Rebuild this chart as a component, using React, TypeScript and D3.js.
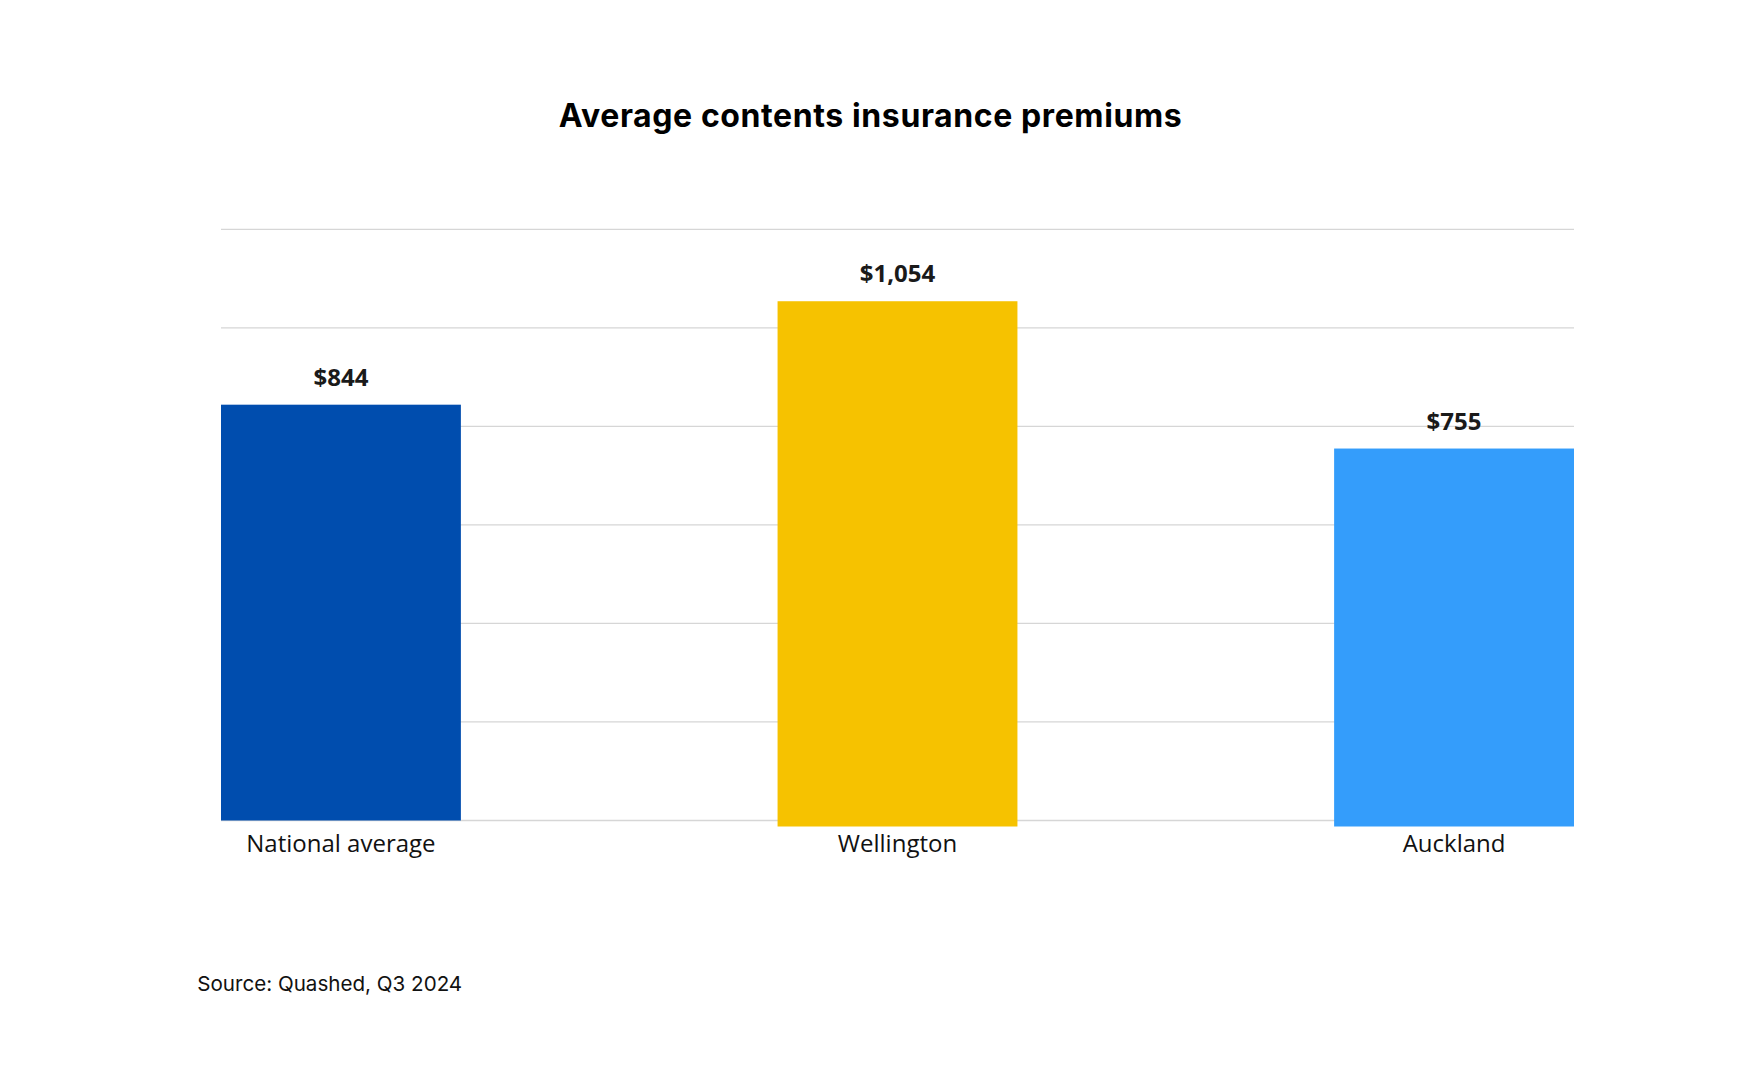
import React from "react";
import * as d3 from "d3";

const categories = ["National average", "Wellington", "Auckland"];
const values = [844, 1054, 755];
const valueLabels = ["$844", "$1,054", "$755"];
const barColors = ["#004DAE", "#F6C200", "#349DFB"];
const gridTicks = [0, 200, 400, 600, 800, 1000, 1200];
const titleText = "Average contents insurance premiums";
const sourceText = "Source: Quashed, Q3 2024";

const W = 1742;
const H = 1080;

export default function App() {
  const x = d3
    .scaleBand<string>()
    .domain(categories)
    .range([221, 1574])
    .paddingInner(0.569)
    .paddingOuter(0);
  const y = d3.scaleLinear().domain([0, 1200]).range([820.5, 229.3]);
  const overhang = [0, 6, 6];

  return (
    <svg
      width={W}
      height={H}
      viewBox={`0 0 ${W} ${H}`}
      style={{ position: "absolute", left: 0, top: 0, background: "#fff" }}
    >
      <rect x={0} y={0} width={W} height={H} fill="#fff" />
      <text
        x={870.5}
        y={127.3}
        textAnchor="middle"
        fontFamily="Inter, 'DejaVu Sans', sans-serif"
        fontWeight={700}
        fontSize={32}
        letterSpacing={0.6}
        fill="#000"
      >
        {titleText}
      </text>
      {gridTicks.map((t) => (
        <line
          key={t}
          x1={221}
          x2={1574}
          y1={y(t)}
          y2={y(t)}
          stroke="#d6d6d6"
          strokeWidth={1.3}
        />
      ))}
      {categories.map((c, i) => {
        const bx = x(c) as number;
        const bw = x.bandwidth();
        const top = y(values[i]);
        return (
          <g key={c}>
            <rect
              x={bx}
              y={top}
              width={bw}
              height={y(0) - top + overhang[i]}
              fill={barColors[i]}
            />
            <text
              x={bx + bw / 2}
              y={top - 19}
              textAnchor="middle"
              fontFamily="'Open Sans', sans-serif"
              fontWeight={700}
              fontSize={24}
              fill="#1a1a1a"
            >
              {valueLabels[i]}
            </text>
            <text
              x={bx + bw / 2}
              y={851.7}
              textAnchor="middle"
              fontFamily="'Open Sans', sans-serif"
              fontWeight={400}
              fontSize={24}
              fill="#111"
            >
              {c}
            </text>
          </g>
        );
      })}
      <text
        x={197.3}
        y={990.7}
        fontFamily="Inter, 'DejaVu Sans', sans-serif"
        fontSize={20.6}
        fill="#111"
      >
        {sourceText}
      </text>
    </svg>
  );
}
